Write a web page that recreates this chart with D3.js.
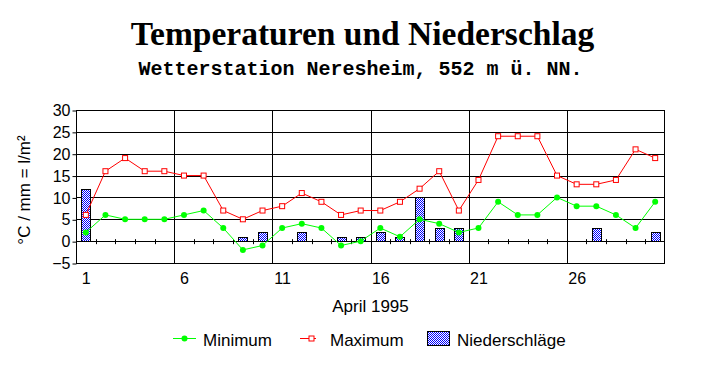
<!DOCTYPE html>
<html>
<head>
<meta charset="utf-8">
<script src="https://cdn.jsdelivr.net/npm/d3@7"></script>
<style>
html,body{margin:0;padding:0;background:#fff;}
svg{display:block;}
</style>
</head>
<body>
<svg id="chart" width="723" height="368"></svg>
<script>
const days = [1,2,3,4,5,6,7,8,9,10,11,12,13,14,15,16,17,18,19,20,21,22,23,24,25,26,27,28,29,30];
const minimum = [2,6,5,5,5,6,7,3,-2,-1,3,4,3,-1,0,3,1,5,4,2,3,9,6,6,10,8,8,6,3,9];
const maximum = [6,16,19,16,16,15,15,7,5,7,8,11,9,6,7,7,9,12,16,7,14,24,24,24,15,13,13,14,21,19];
const niederschlag = [12,0,0,0,0,0,0,0,1,2,0,2,0,1,1,2,1,10,3,3,0,0,0,0,0,0,3,0,0,2];
const xTickLabels = [1,6,11,16,21,26];
const yTicks = [-5,0,5,10,15,20,25,30];
const title = "Temperaturen und Niederschlag";
const subtitle = "Wetterstation Neresheim, 552 m ü. NN.";
const xTitle = "April 1995";
const yTitle = "°C / mm = l/m²";
const legendNames = ["Minimum","Maximum","Niederschläge"];

const svg = d3.select("#chart");
const L = 76, R = 665, T = 110, B = 263;
const x = d3.scaleLinear().domain([0.5, 30.5]).range([L, R]);
const y = d3.scaleLinear().domain([-5, 30]).range([B, T]);
const sans = "Arial, 'Liberation Sans', sans-serif";
const green = "#00ff00", red = "#ff0000";

// pattern for bars
const defs = svg.append("defs");
const pat = defs.append("pattern").attr("id","dots").attr("patternUnits","userSpaceOnUse")
  .attr("width",2).attr("height",2);
pat.append("rect").attr("width",2).attr("height",2).attr("fill","#ffffff");
pat.append("rect").attr("x",0).attr("y",0).attr("width",1).attr("height",1).attr("fill","#0000ff");
pat.append("rect").attr("x",1).attr("y",1).attr("width",1).attr("height",1).attr("fill","#0000ff");

// titles
svg.append("text").attr("x",362.5).attr("y",45).attr("text-anchor","middle")
  .attr("font-family","'Liberation Serif','Times New Roman',serif").attr("font-weight","bold")
  .attr("font-size",33.5).text(title);
svg.append("text").attr("x",360.5).attr("y",75).attr("text-anchor","middle")
  .attr("font-family","'Liberation Mono','Courier New',monospace").attr("font-weight","bold")
  .attr("font-size",20).text(subtitle);

// horizontal gridlines
const crisp = v => Math.round(v) + 0.5;
svg.append("g").selectAll("line").data(yTicks).join("line")
  .attr("x1",L).attr("x2",R).attr("y1",d=>crisp(y(d))).attr("y2",d=>crisp(y(d)))
  .attr("stroke","#000").attr("stroke-width",1);
// vertical gridlines at category boundaries every 5 days
const vBounds = [5.5,10.5,15.5,20.5,25.5];
svg.append("g").selectAll("line").data(vBounds).join("line")
  .attr("x1",d=>crisp(x(d))).attr("x2",d=>crisp(x(d))).attr("y1",T).attr("y2",B)
  .attr("stroke","#000").attr("stroke-width",1);
// border
svg.append("rect").attr("x",L+0.5).attr("y",T+0.5).attr("width",R-L-1).attr("height",B-T)
  .attr("fill","none").attr("stroke","#000").attr("stroke-width",1);

// y axis
const yAxis = d3.axisLeft(y).tickValues(yTicks).tickSize(4).tickPadding(2).tickFormat(d3.format("d"));
const gy = svg.append("g").attr("transform",`translate(${L+0.5},0.5)`).call(yAxis);
gy.select(".domain").remove();
gy.selectAll("text").attr("font-family",sans).attr("font-size",16).attr("fill","#000");

// zero-line ticks at category boundaries
const boundaries = d3.range(1.5, 30.5, 1);
svg.append("g").selectAll("line").data(boundaries).join("line")
  .attr("x1",d=>crisp(x(d))).attr("x2",d=>crisp(x(d)))
  .attr("y1",y(0)-2).attr("y2",y(0)+3).attr("stroke","#000").attr("stroke-width",1);

// x tick labels
const xAxis = d3.axisBottom(x).tickValues(xTickLabels).tickSize(0).tickPadding(8).tickFormat(d3.format("d"));
const gx = svg.append("g").attr("transform",`translate(0,${B+2})`).call(xAxis);
gx.select(".domain").remove();
gx.selectAll("text").attr("font-family",sans).attr("font-size",16).attr("fill","#000");

// bars
const bw = 9;
svg.append("g").selectAll("rect").data(days.filter((d,i)=>niederschlag[i]>0)).join("rect")
  .attr("x",d=>Math.round(x(d)-bw/2)+0.5)
  .attr("y",d=>Math.round(y(niederschlag[d-1]))+0.5)
  .attr("width",bw)
  .attr("height",d=>Math.round(y(0))-Math.round(y(niederschlag[d-1])))
  .attr("fill","url(#dots)").attr("stroke","#000").attr("stroke-width",1);

// lines
const line = vals => d3.line().x(d=>x(d)).y(d=>y(vals[d-1]))(days);
svg.append("path").attr("d",line(minimum)).attr("fill","none").attr("stroke",green).attr("stroke-width",1);
svg.append("path").attr("d",line(maximum)).attr("fill","none").attr("stroke",red).attr("stroke-width",1);
svg.append("g").selectAll("circle").data(days).join("circle")
  .attr("cx",d=>x(d)).attr("cy",d=>y(minimum[d-1])).attr("r",3).attr("fill",green);
svg.append("g").selectAll("rect").data(days).join("rect")
  .attr("x",d=>x(d)-2.5).attr("y",d=>y(maximum[d-1])-2.5).attr("width",5).attr("height",5)
  .attr("fill","#fff").attr("stroke",red).attr("stroke-width",1);

// axis titles
svg.append("text").attr("x",370.5).attr("y",312).attr("text-anchor","middle")
  .attr("font-family",sans).attr("font-size",17).text(xTitle);
svg.append("text").attr("transform","translate(30,190) rotate(-90)").attr("text-anchor","middle")
  .attr("font-family",sans).attr("font-size",17).text(yTitle);

// legend
const ly = 338.5, lty = 346;
const lg = svg.append("g");
lg.append("line").attr("x1",173).attr("x2",196).attr("y1",ly).attr("y2",ly).attr("stroke",green);
lg.append("circle").attr("cx",184.5).attr("cy",ly).attr("r",3).attr("fill",green);
lg.append("text").attr("x",203).attr("y",lty).attr("font-family",sans).attr("font-size",17).text(legendNames[0]);
lg.append("line").attr("x1",300).attr("x2",316).attr("y1",ly).attr("y2",ly).attr("stroke",red);
lg.append("rect").attr("x",309).attr("y",ly-2.5).attr("width",5).attr("height",5).attr("fill","#fff").attr("stroke",red);
lg.append("text").attr("x",330).attr("y",lty).attr("font-family",sans).attr("font-size",17).text(legendNames[1]);
lg.append("rect").attr("x",427.5).attr("y",331.5).attr("width",22).attr("height",14).attr("fill","url(#dots)").attr("stroke","#000");
lg.append("text").attr("x",457).attr("y",lty).attr("font-family",sans).attr("font-size",17).text(legendNames[2]);
</script>
</body>
</html>
